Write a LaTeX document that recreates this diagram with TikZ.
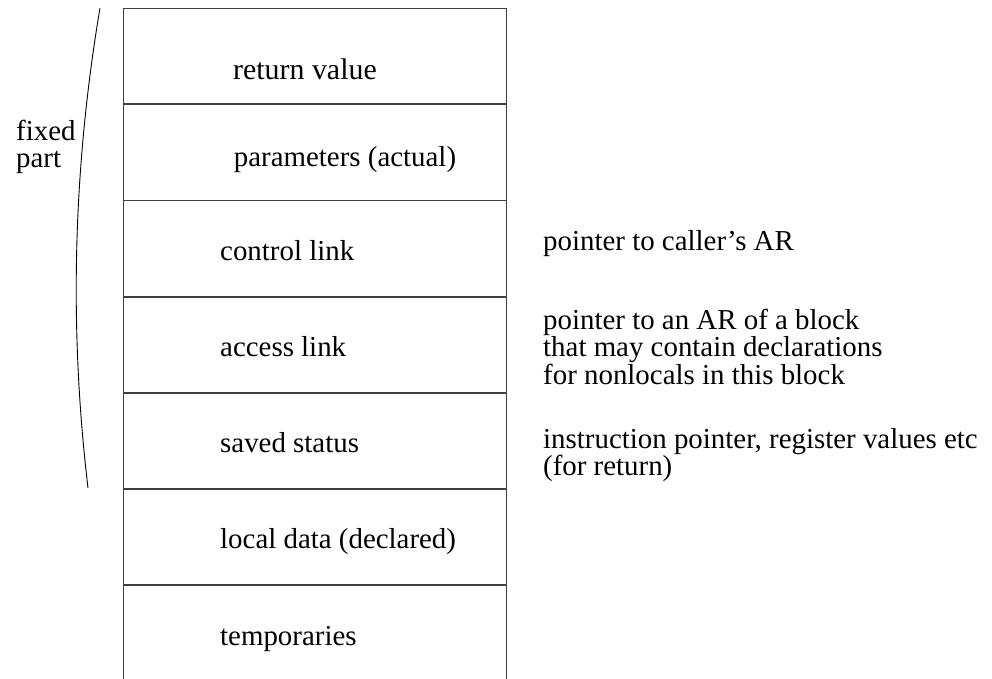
\documentclass[tikz,border=0pt]{standalone}
\usepackage{fontspec}
\setmainfont{Liberation Serif}
\usetikzlibrary{positioning}
\usetikzlibrary{calc}

\tikzset{
  frame/.style={draw=black!75, line width=1.2bp},
  field/.style={inner sep=0pt, font=\fontsize{29}{25}\selectfont},
  note/.style={field, align=left, anchor=west}
}

\begin{document}
\begin{tikzpicture}[x=1bp, y=-1bp]
\useasboundingbox (0,0) rectangle (992,679);

% the stack frame
\draw[frame] (123.5,679) -- (123.5,8.5) -- (506.5,8.5) -- (506.5,679);
\foreach \y in {104,200.5,297,393,489,585}
  \draw[frame] (123.5,\y) -- (506.5,\y);

% fields
\node[field, anchor=base west, font=\fontsize{30}{26}\selectfont] (retval) at (233,80) {return value};
\node[field, anchor=base] (params) at (345,167) {parameters (actual)};
\node[field, anchor=base west] (ctrl) at (220,260) {control link};
\node[field, anchor=base west] (access) at (220,356) {access link};
\node[field, anchor=base west] (saved) at (220,452) {saved status};
\node[field, anchor=base west] (local) at (220,548) {local data (declared)};
\node[field, anchor=base west] (temps) at (220,645) {temporaries};

% notes on the right
\node[field, anchor=base west] (ctrlnote) at (543,250) {pointer to caller's AR};
\node[note] (accessnote) at (543,347) {pointer to an AR of a block\\that may contain declarations\\for nonlocals in this block};
\node[note] (savednote) at (543,455) {instruction pointer, register values etc\\(for return)};

% fixed part
\coordinate (fixtop) at (100,8);
\coordinate (fixbot) at (88,488);
\draw[line width=0.9bp] (fixtop) .. controls (73,168) and (69,328) .. (fixbot);
\node[note, font=\fontsize{29}{27}\selectfont] (fixed) at (16,147) {fixed\\part};
\end{tikzpicture}
\end{document}
